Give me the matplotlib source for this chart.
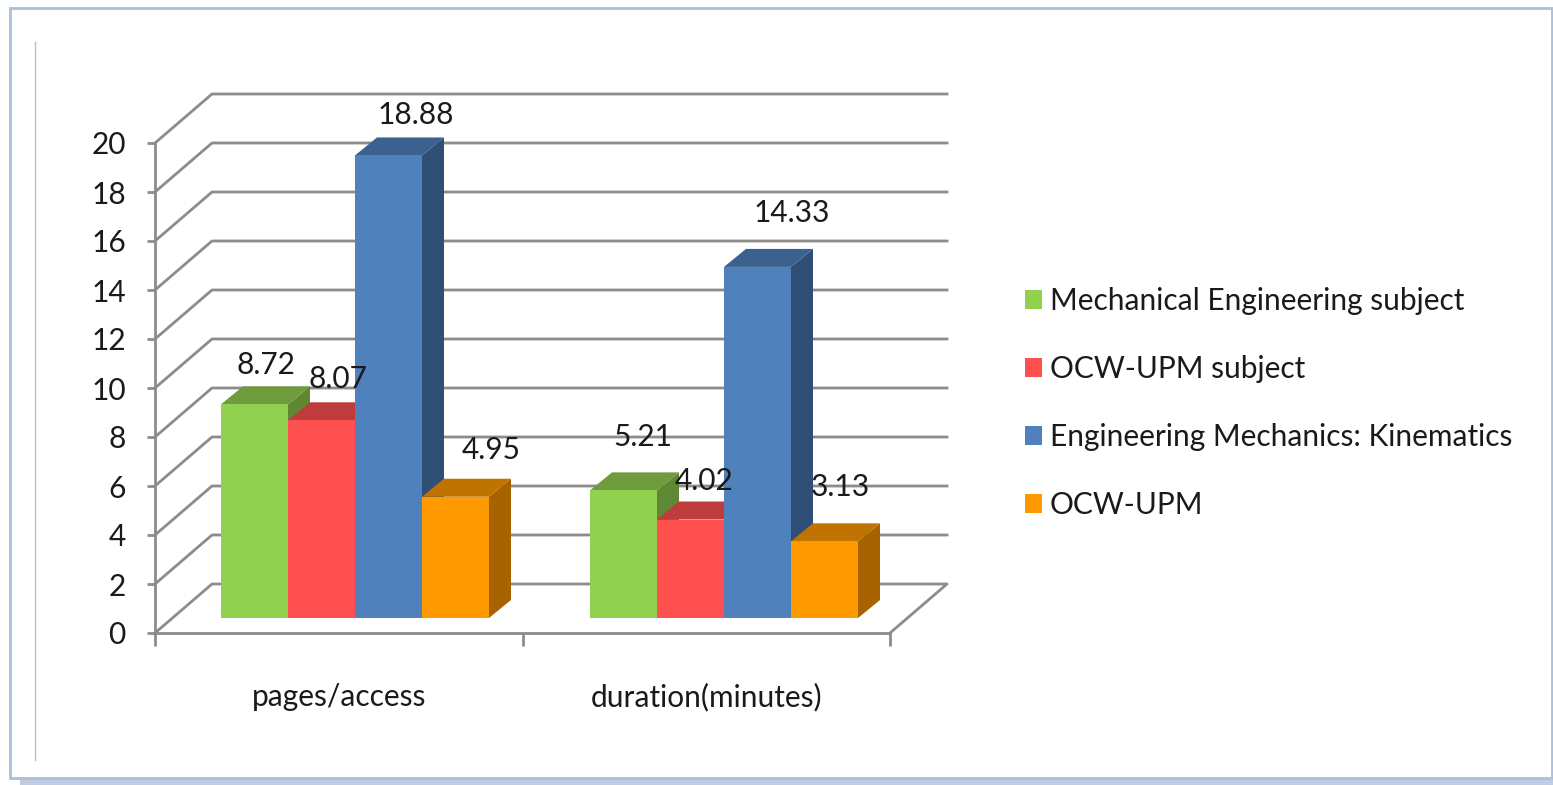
import matplotlib
matplotlib.use('Agg')
import matplotlib.pyplot as plt
from matplotlib.patches import Polygon, Patch, Rectangle

W, H = 1553, 785

categories = ['pages/access', 'duration(minutes)']
series_names = ['Mechanical Engineering subject', 'OCW-UPM subject',
                'Engineering Mechanics: Kinematics', 'OCW-UPM']
mech_eng = [8.72, 5.21]
ocw_subject = [8.07, 4.02]
kinematics = [18.88, 14.33]
ocw_upm = [4.95, 3.13]
all_series = [mech_eng, ocw_subject, kinematics, ocw_upm]

y_ticks = list(range(0, 21, 2))

front_cols = ['#92D050', '#FF5050', '#4F81BD', '#FF9900']
top_cols = ['#6E9C3C', '#BF3C3C', '#3B618E', '#BF7300']
side_cols = ['#5F8734', '#A33333', '#2F4F77', '#A66300']
grid_col = '#8C8C8C'
text_col = '#1A1A1A'
font_size = 21.5

# label shifts from the bar's top centre, pixels
label_shift = [[(11, 39), (19, 53)], [(16, 41), (14, 39)],
               [(27, 40), (34, 54)], [(36, 47), (16, 54)]]

plt.rcParams['font.family'] = ['Lato', 'DejaVu Sans']
fig = plt.figure(figsize=(W / 100, H / 100), dpi=100, facecolor='white')

# page frame and shadow, in pixel coordinates
bg = fig.add_axes([0, 0, 1, 1])
bg.set_xlim(0, W)
bg.set_ylim(H, 0)
bg.axis('off')
bg.add_patch(Rectangle((20, 776), W - 20, 9, fc='#C0CCE0', ec='none'))
bg.add_patch(Rectangle((10, 8), W - 11, 770, fc='white', ec='#AEBFDA', lw=2))
bg.plot([35, 35], [42, 760], color='#BDBDBD', lw=1)

ax = fig.add_axes([155 / W, (H - 633) / H, 735 / W, 490 / H])
ax.set_xlim(0, 2)
ax.set_ylim(0, 20)
ax.patch.set_visible(False)

# wall depth, and how far one unit of depth moves a point
depth_x = 57 / 367.5
depth_y = 2.0

for v in y_ticks[1:]:
    ax.plot([0, depth_x, 2 + depth_x], [v, v + depth_y, v + depth_y],
            color=grid_col, lw=2, clip_on=False, zorder=1)
ax.plot([0, depth_x, 2 + depth_x, 2], [0, depth_y, depth_y, 0],
        color=grid_col, lw=2, clip_on=False, zorder=1)

bar_w = 67 / 367.5
bar_dx = 22 / 367.5
bar_dy = 18 / 24.5
base = 15 / 24.5
group_start = [66 / 367.5, 435 / 367.5]

z = 3
for s, vals in enumerate(all_series):
    for g, v in enumerate(vals):
        x0 = group_start[g] + s * bar_w
        x1 = x0 + bar_w
        top = base + v
        ax.add_patch(Polygon([(x1, base), (x1 + bar_dx, base + bar_dy),
                              (x1 + bar_dx, top + bar_dy), (x1, top)],
                             fc=side_cols[s], ec='none', zorder=z, clip_on=False))
        ax.add_patch(Polygon([(x0, top), (x0 + bar_dx, top + bar_dy),
                              (x1 + bar_dx, top + bar_dy), (x1, top)],
                             fc=top_cols[s], ec='none', zorder=z, clip_on=False))
        ax.add_patch(Rectangle((x0, base), bar_w, v, fc=front_cols[s], ec='none',
                               zorder=z + 1, clip_on=False))
        z += 2

for s, vals in enumerate(all_series):
    for g, v in enumerate(vals):
        x0 = group_start[g] + s * bar_w
        ax.annotate(f'{v:.2f}', (x0 + bar_w / 2, base + v),
                    xytext=label_shift[s][g], textcoords='offset pixels',
                    ha='center', va='center', fontsize=font_size, color=text_col,
                    zorder=50, annotation_clip=False)

for name in ['top', 'right']:
    ax.spines[name].set_visible(False)
for name in ['left', 'bottom']:
    ax.spines[name].set_color(grid_col)
    ax.spines[name].set_linewidth(2)
    ax.spines[name].set_zorder(2)

ax.set_yticks(y_ticks)
ax.tick_params(axis='y', length=6, width=2, color=grid_col, labelsize=font_size,
               labelcolor=text_col, pad=15)
ax.set_xticks([0, 1, 2])
ax.set_xticklabels([])
ax.set_xticks([0.5, 1.5], labels=categories, minor=True)
ax.tick_params(axis='x', which='major', length=9, width=2, color=grid_col)
ax.tick_params(axis='x', which='minor', length=0, labelsize=font_size,
               labelcolor=text_col, pad=36)

handles = [Patch(fc=c, ec='none') for c in front_cols]
fig.legend(handles, series_names, loc='upper left',
           bbox_to_anchor=(1025 / W, 1 - 287 / H), frameon=False, fontsize=font_size,
           handlelength=0.57, handleheight=0.57, handletextpad=0.27,
           labelspacing=1.34, labelcolor=text_col, borderpad=0, borderaxespad=0)

fig.savefig('out.png', dpi=100)
